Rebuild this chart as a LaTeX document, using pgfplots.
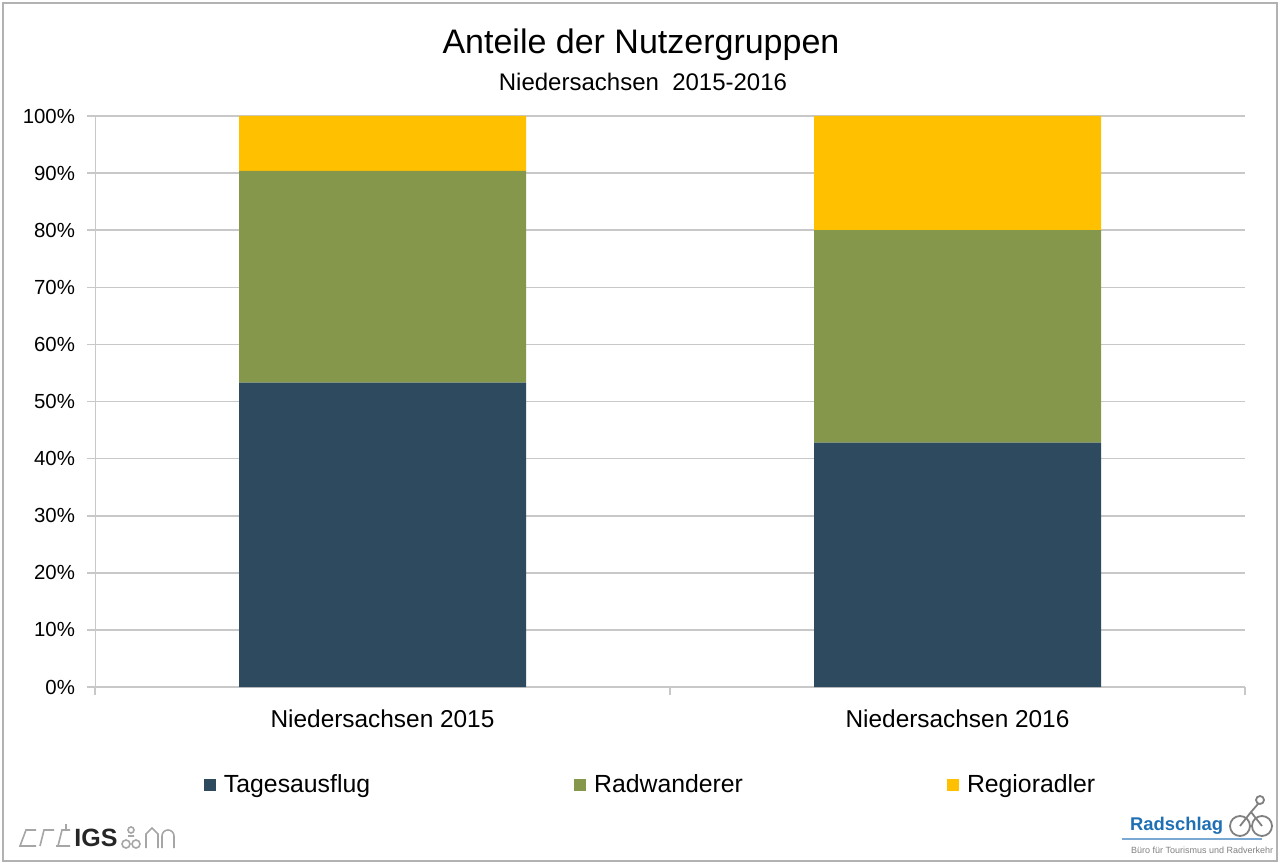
\documentclass[border=0pt]{standalone}
\usepackage{pgfplots}
\pgfplotsset{compat=1.18}
\usepackage{fontspec}
\setmainfont{Liberation Sans}
\definecolor{cTag}{HTML}{2E4A5E}
\definecolor{cRad}{HTML}{84974A}
\definecolor{cReg}{HTML}{FFC000}
\definecolor{cGrid}{HTML}{C8C8C8}
\definecolor{cLogo}{HTML}{1F6FB5}
\begin{document}
\begin{tikzpicture}
\begin{scope}[x=0.5pt,y=0.5pt]
\path[use as bounding box] (0,0) rectangle (1280,864);
\draw[gray!60,line width=0.8pt] (3,3) rectangle (1277,861);
\node[font=\fontsize{17}{20}\selectfont] at (641,819) {Anteile der Nutzergruppen};
\node[font=\fontsize{12}{14}\selectfont] at (643,782) {Niedersachsen\ \ 2015-2016};
% IGS logo
\node[font=\fontsize{12.5}{14}\selectfont\bfseries, text=black!85] at (96,26) {IGS};
\draw[gray!70, line width=0.8pt] (36,18) -- (20,18) -- (26,34) -- (36,34) (40,18) -- (44,34) -- (54,34) (58,18) -- (62,34) -- (70,34) (56,18) -- (70,18) (66,34) -- (66,40);
\draw[gray!70, line width=0.8pt] (126,20) circle (4) (136,20) circle (4) (131,34) circle (3) (128,28) -- (134,28) (146,16) -- (146,30) -- (152,36) -- (158,30) -- (158,16) (162,16) -- (162,28) arc (180:0:6) -- (174,16);
% Radschlag logo
\node[font=\fontsize{9.2}{11}\selectfont\bfseries, text=cLogo, anchor=west] at (1123,38) {Radschlag};
\draw[cLogo!60, line width=0.8pt] (1122,25) -- (1262,25);
\node[font=\fontsize{4.5}{5}\selectfont, text=gray, anchor=west] at (1124,14) {Büro für Tourismus und Radverkehr};
\draw[gray, line width=0.9pt] (1240,38) circle (10) (1262,38) circle (10) (1240,38) -- (1251,52) -- (1262,38) (1251,52) -- (1258,60) (1260,64) circle (4);
\end{scope}
\begin{axis}[
  at={(47.5pt,88.5pt)}, anchor=south west,
  scale only axis, width=575pt, height=285.5pt,
  ybar stacked, bar width=143.5pt,
  xmin=-0.5, xmax=1.5, ymin=0, ymax=100,
  axis lines*=left,
  axis line style={cGrid},
  xtick={-0.5,0.5,1.5}, xticklabels={},
  extra x ticks={0,1},
  extra x tick labels={Niedersachsen 2015,Niedersachsen 2016},
  extra x tick style={major tick length=0pt, grid=none,
     xticklabel style={font=\fontsize{12.2}{14}\selectfont, yshift=-8pt}},
  ytick={0,10,...,100},
  yticklabels={0\%,10\%,20\%,30\%,40\%,50\%,60\%,70\%,80\%,90\%,100\%},
  yticklabel style={font=\fontsize{10.2}{12}\selectfont, xshift=-2.5pt},
  tick align=outside, major tick length=4pt,
  tick style={cGrid, line width=0.8pt},
  ymajorgrids, grid style={cGrid, line width=0.8pt},
  legend columns=3,
  legend style={draw=none, at={(0.484,-0.1716)}, anchor=center,
     font=\fontsize{12.4}{14}\selectfont,
     /tikz/every even column/.append style={column sep=100pt}},
  legend image code/.code={\fill[#1] (0pt,-3pt) rectangle (6pt,3pt); \path (8pt,0pt);},
]
\addplot[fill=cTag, draw=none] coordinates {(0,53.3) (1,42.8)};
\addplot[fill=cRad, draw=none] coordinates {(0,37.1) (1,37.2)};
\addplot[fill=cReg, draw=none] coordinates {(0,9.6) (1,20.0)};
\legend{Tagesausflug,Radwanderer,Regioradler}
\end{axis}
\end{tikzpicture}
\end{document}
